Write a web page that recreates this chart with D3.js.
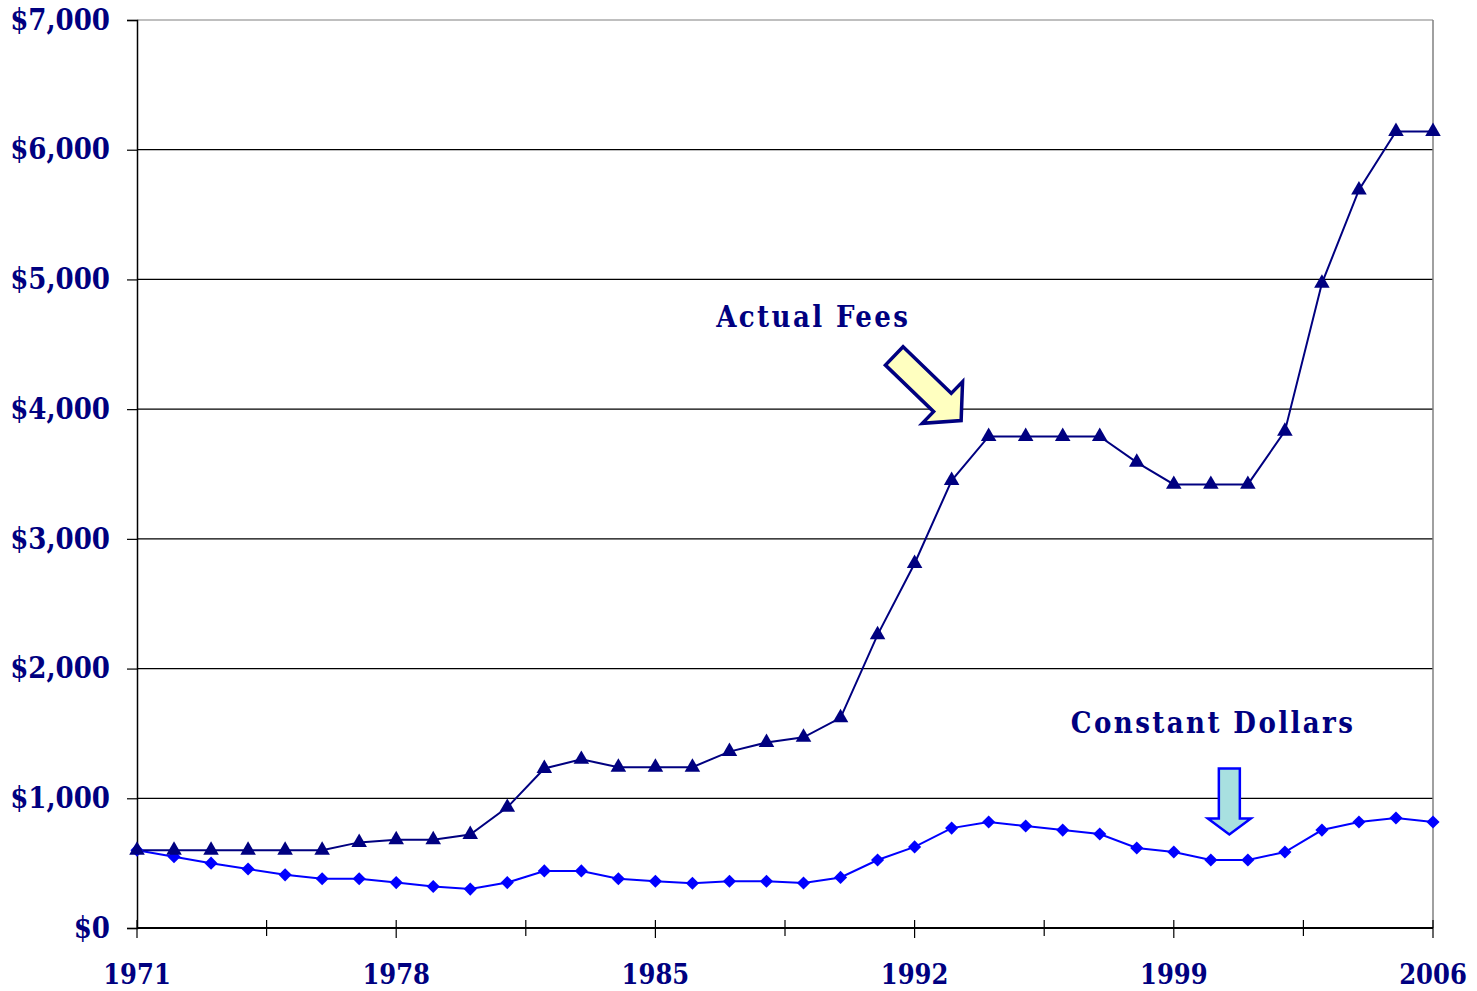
<!DOCTYPE html>
<meta charset="utf-8">
<style>
  body { margin: 0; background: #fff; }
  text { font-family: "DejaVu Serif Condensed", "DejaVu Serif", serif; font-weight: bold; fill: #000080; }
</style>
<div id="chart"></div>
<script src="https://d3js.org/d3.v7.min.js"></script>
<script>

// data
var years = d3.range(1971, 2007);
var actualFees = [600, 600, 600, 600, 600, 600, 660, 680, 680, 720,
                  930, 1230, 1300, 1240, 1240, 1240, 1360, 1430, 1470, 1620,
                  2260, 2810, 3450, 3790, 3790, 3790, 3790, 3590, 3420, 3420,
                  3420, 3830, 4970, 5690, 6140, 6140];
var constantDollars = [600, 550, 500, 455, 410, 380, 380, 350, 320, 300,
                       350, 440, 440, 380, 360, 345, 360, 360, 347, 390,
                       524, 625, 770, 817, 786, 755, 725, 617, 586, 524,
                       524, 586, 755, 817, 848, 817];
var yTicks = [0, 1000, 2000, 3000, 4000, 5000, 6000, 7000];
var xLabels = [1971, 1978, 1985, 1992, 1999, 2006];

var margin = {top: 20, right: 44, bottom: 63, left: 137},
    width = 1477 - margin.left - margin.right,
    height = 991 - margin.top - margin.bottom;

var svg = d3.select("#chart")
  .append("svg")
    .attr("width", 1477)
    .attr("height", 991)
  .append("g")
    .attr("transform", "translate(" + margin.left + "," + margin.top + ")");

var x = d3.scaleLinear().domain([1971, 2006]).range([0, width]);
var y = d3.scaleLinear().domain([0, 7000]).range([height, 0]);

// gridlines
svg.append("g")
  .selectAll("line")
  .data(yTicks.slice(1))
  .enter().append("line")
    .attr("x1", 0).attr("x2", width)
    .attr("y1", function(d) { return y(d); })
    .attr("y2", function(d) { return y(d); })
    .attr("stroke", function(d) { return d == 7000 ? "#808080" : "#000"; })
    .attr("stroke-width", 1.2);

// right border
svg.append("line")
  .attr("x1", width).attr("x2", width)
  .attr("y1", 0).attr("y2", height)
  .attr("stroke", "#808080").attr("stroke-width", 1.5);

// y axis
var yAxis = svg.append("g")
  .call(d3.axisLeft(y).tickValues(yTicks).tickSize(10).tickPadding(17)
    .tickFormat(function(d) { return "$" + d3.format(",")(d); }));
yAxis.attr("font-family", null);
yAxis.select(".domain").attr("stroke", "#000").attr("stroke-width", 1.5);
yAxis.selectAll(".tick line").attr("stroke", "#000").attr("stroke-width", 1.2);
yAxis.selectAll("text")
  .attr("font-size", 29).attr("fill", "#000080");

// x axis: ticks every 3.5 years crossing the axis
var xTicks = d3.range(0, 11).map(function(i) { return 1971 + i * 3.5; });
var xAxis = svg.append("g").attr("transform", "translate(0," + height + ")");
xAxis.append("line")
  .attr("x1", 0).attr("x2", width)
  .attr("stroke", "#000").attr("stroke-width", 2.2);
xAxis.selectAll(".xt")
  .data(xTicks)
  .enter().append("line")
    .attr("class", "xt")
    .attr("x1", function(d) { return x(d); })
    .attr("x2", function(d) { return x(d); })
    .attr("y1", -8)
    .attr("y2", function(d, i) { return i % 2 == 0 ? 10 : 8; })
    .attr("stroke", "#000").attr("stroke-width", 1.2);
xAxis.selectAll(".xl")
  .data(xLabels)
  .enter().append("text")
    .attr("class", "xl")
    .attr("x", function(d) { return x(d); })
    .attr("y", 56)
    .attr("text-anchor", "middle")
    .attr("font-size", 27)
    .text(function(d) { return d; });

// lines
var line = function(vals) {
  return d3.line()
    .x(function(d, i) { return x(years[i]); })
    .y(function(d) { return y(d); })(vals);
};

svg.append("path")
  .attr("d", line(constantDollars))
  .attr("fill", "none").attr("stroke", "#0000ff").attr("stroke-width", 2);

svg.append("path")
  .attr("d", line(actualFees))
  .attr("fill", "none").attr("stroke", "#000080").attr("stroke-width", 2);

var diamond = d3.symbol().type(d3.symbolDiamond2).size(110);
svg.append("g")
  .selectAll("path")
  .data(constantDollars)
  .enter().append("path")
    .attr("d", diamond)
    .attr("transform", function(d, i) { return "translate(" + x(years[i]) + "," + y(d) + ")"; })
    .attr("fill", "#0000ff");

var triangle = d3.symbol().type(d3.symbolTriangle).size(105);
svg.append("g")
  .selectAll("path")
  .data(actualFees)
  .enter().append("path")
    .attr("d", triangle)
    .attr("transform", function(d, i) { return "translate(" + x(years[i]) + "," + y(d) + ")"; })
    .attr("fill", "#000080");

// annotations
svg.append("text")
  .attr("x", x(1986.64)).attr("y", y(4630))
  .attr("font-size", 29)
  .attr("letter-spacing", 2.4)
  .text("Actual Fees");

svg.append("text")
  .attr("x", x(1996.22)).attr("y", y(1500))
  .attr("font-size", 29)
  .attr("letter-spacing", 2.4)
  .text("Constant Dollars");

// diagonal block arrow pointing at the actual fees line
var w = 12.7, W = 29, L = 67, H = 26;
var arrowPts = [[0, -w], [L, -w], [L, -W], [L + H, 0], [L, W], [L, w], [0, w]];
svg.append("path")
  .attr("d", "M" + arrowPts.join("L") + "Z")
  .attr("transform", "translate(" + x(1991.45) + "," + y(4410) + ") rotate(44)")
  .attr("fill", "#ffffc0")
  .attr("stroke", "#000080")
  .attr("stroke-width", 3.5)
  .attr("stroke-linejoin", "miter");

// down arrow pointing at the constant dollars line
var sw = 10.5, hw = 21.5, sl = 50, hl = 16;
var downPts = [[-sw, 0], [sw, 0], [sw, sl], [hw, sl], [0, sl + hl], [-hw, sl], [-sw, sl]];
svg.append("path")
  .attr("d", "M" + downPts.join("L") + "Z")
  .attr("transform", "translate(" + x(2000.5) + "," + y(1230) + ")")
  .attr("fill", "#a8e0e0")
  .attr("stroke", "#0000ff")
  .attr("stroke-width", 2.5);

</script>
